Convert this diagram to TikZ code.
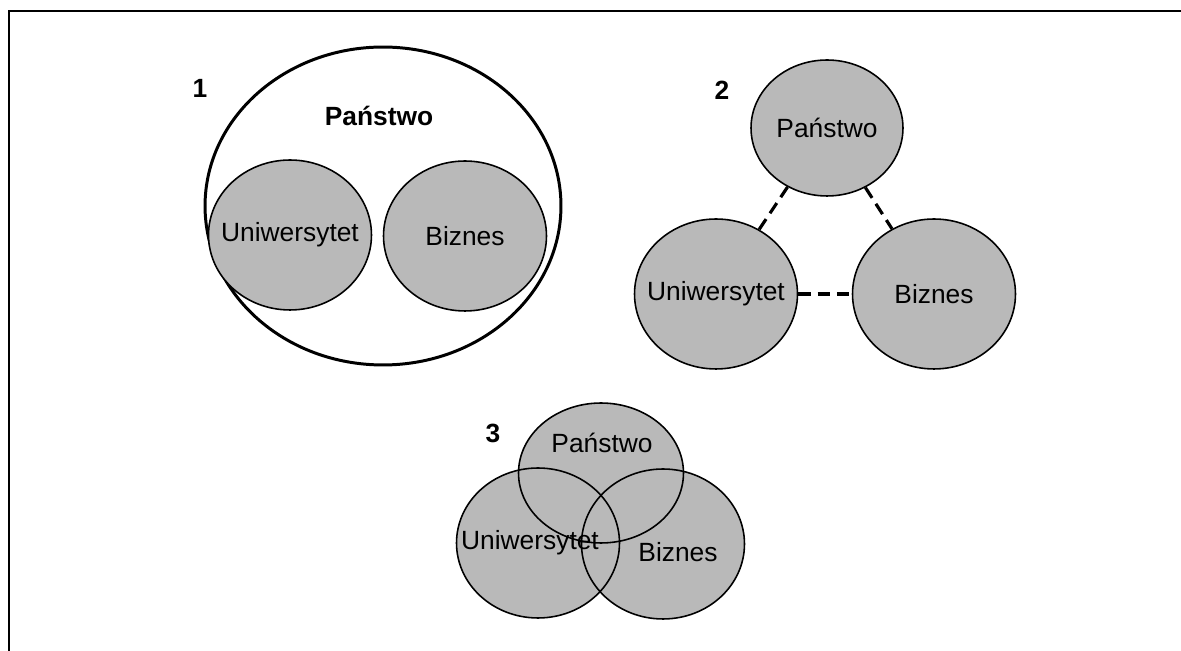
\documentclass[tikz,border=0pt]{standalone}
\usepackage{fontspec}
\setmainfont{Liberation Sans}
\usetikzlibrary{shapes.geometric}
\tikzset{
  krag/.style={ellipse, draw, line width=0.9pt, fill=gray!55, inner sep=0pt,
    minimum width=3.26cm, minimum height=3cm},
  opis/.style={font=\fontsize{15}{18}\selectfont},
  gruby/.style={font=\fontsize{15}{18}\selectfont\bfseries},
  relacja/.style={line width=1.8pt, dash pattern=on 7pt off 4pt},
}
\begin{document}
\begin{tikzpicture}[x=0.02cm, y=-0.02cm]
  % Ramka (widoczne tylko gorna i lewa krawedz)
  \useasboundingbox (0,0) rectangle (1181,651);
  \clip (0,0) rectangle (1181,651);
  \draw[line width=1.2pt] (1200,11) -- (9,11) -- (9,670);

  % Model 1: panstwo obejmuje uniwersytet i biznes
  \node[gruby] (nr1) at (200,88) {1};
  \node[ellipse, draw, line width=1.7pt, minimum width=7.12cm, minimum height=6.36cm] (pan1) at (383,206) {};
  \node[gruby] (pan1txt) at (379,116) {Państwo};
  \node[krag, label={[opis]center:Uniwersytet}] (uni1) at (290,235) {};
  \node[krag, label={[opis]center:Biznes}] (biz1) at (465,236) {};

  % Model 2: trzy oddzielne sfery
  \node[gruby] (nr2) at (722,90) {2};
  \node[krag, minimum width=3.04cm, minimum height=2.72cm,
        label={[opis]center:Państwo}] (pan2) at (827,128) {};
  \node[krag, label={[opis]center:Uniwersytet}] (uni2) at (716,294) {};
  \node[krag, label={[opis]center:Biznes}] (biz2) at (934,294) {};
  \draw[relacja] (pan2) -- (uni2);
  \draw[relacja] (pan2) -- (biz2);
  \draw[relacja] (uni2) -- (biz2);

  % Model 3: potrojna helisa (sfery nachodza na siebie)
  \node[gruby] (nr3) at (493,433) {3};
  \node[krag, draw=none, minimum width=3.3cm, minimum height=2.8cm] (pan3) at (601,473) {};
  \node[krag, draw=none] (uni3) at (538,543) {};
  \node[krag, draw=none] (biz3) at (663,544) {};
  % kontury na wierzchu
  \draw[line width=0.9pt] (pan3.center) ellipse [x radius=1.65cm, y radius=1.4cm];
  \draw[line width=0.9pt] (uni3.center) ellipse [x radius=1.63cm, y radius=1.5cm];
  \draw[line width=0.9pt] (biz3.center) ellipse [x radius=1.63cm, y radius=1.5cm];
  \node[opis] (pan3txt) at (602,443) {Państwo};
  \node[opis] (uni3txt) at (530,543) {Uniwersytet};
  \node[opis] (biz3txt) at (678,552) {Biznes};
\end{tikzpicture}
\end{document}
